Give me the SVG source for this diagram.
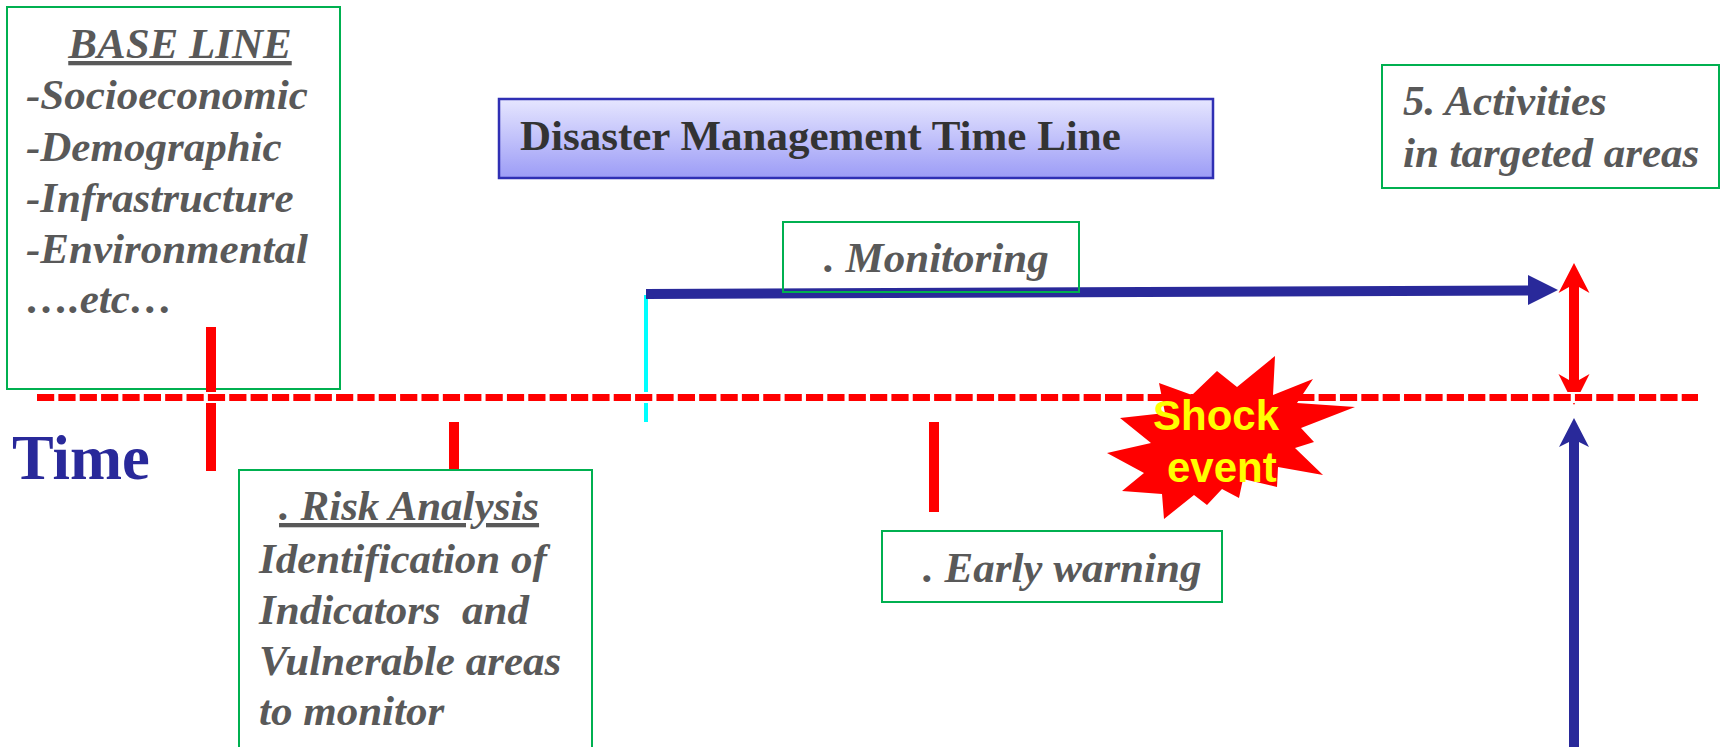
<svg xmlns="http://www.w3.org/2000/svg" width="1723" height="747" viewBox="0 0 1723 747">
<style>
.box{fill:none;stroke:#00b050;stroke-width:2}
.it{font-family:"Liberation Serif","Times New Roman",serif;font-weight:bold;font-style:italic;font-size:43px;fill:#595959}
.red{stroke:#ff0000;fill:none}
.navy{fill:#29299a}
.redf{fill:#ff0000}
</style>
<defs>
<linearGradient id="tg" x1="0" y1="0" x2="0" y2="1">
<stop offset="0" stop-color="#e6e6ff"/>
<stop offset="1" stop-color="#9c9cf6"/>
</linearGradient>
</defs>
<rect width="1723" height="747" fill="#ffffff"/>

<g id="baseline-node">
<rect class="box" x="7" y="7" width="333" height="382"/>
<text class="it" x="180" y="58" text-anchor="middle" text-decoration="underline">BASE LINE</text>
<text class="it" x="26" y="109">-Socioeconomic</text>
<text class="it" x="26" y="161">-Demographic</text>
<text class="it" x="26" y="212">-Infrastructure</text>
<text class="it" x="26" y="263">-Environmental</text>
<text class="it" x="26" y="313">….etc…</text>
</g>

<g id="title-node">
<rect x="499" y="99" width="714" height="79" fill="url(#tg)" stroke="#2f2fb4" stroke-width="2.5"/>
<text x="520" y="150" font-family="'Liberation Serif','Times New Roman',serif" font-weight="bold" font-size="43" fill="#333333">Disaster Management Time Line</text>
</g>

<g id="time-label">
<text x="12" y="479" font-family="'Liberation Serif','Times New Roman',serif" font-weight="bold" font-size="62.5" fill="#29299a">Time</text>
</g>

<g id="connectors">
<line x1="646" y1="295" x2="646" y2="422" stroke="#00ffff" stroke-width="4"/>
<line class="red" x1="211" y1="327" x2="211" y2="471" stroke-width="10"/>
<line class="red" x1="454" y1="422" x2="454" y2="470" stroke-width="10"/>
<line class="red" x1="934" y1="422" x2="934" y2="512" stroke-width="10"/>
<line x1="646" y1="294" x2="1530" y2="290.5" stroke="#29299a" stroke-width="10"/>
<polygon class="navy" points="1528,275 1558,290 1528,305"/>
<polygon class="redf" points="1574,263 1589.5,293 1579,287 1579,380 1589.5,374 1574,405 1558.5,374 1569,380 1569,287 1558.5,293"/>
<polygon class="navy" points="1574,418 1589,447 1579,442 1579,747 1569,747 1569,442 1559,447"/>
<line x1="37" y1="397.5" x2="1698" y2="397.5" stroke="#ffffff" stroke-width="11"/>
<line class="red" x1="37" y1="397.5" x2="1698" y2="397.5" stroke-width="7" stroke-dasharray="17.2 4.16"/>
</g>

<g id="monitoring-node">
<rect class="box" x="783" y="222" width="296" height="70"/>
<text class="it" x="824" y="272">. Monitoring</text>
</g>

<g id="risk-node">
<rect class="box" x="239" y="470" width="353" height="290"/>
<text class="it" x="279" y="520" text-decoration="underline">. Risk Analysis</text>
<text class="it" x="259" y="573">Identification of</text>
<text class="it" x="259" y="624" xml:space="preserve">Indicators  and</text>
<text class="it" x="259" y="675">Vulnerable areas</text>
<text class="it" x="259" y="725">to monitor</text>
</g>

<g id="early-warning-node">
<rect class="box" x="882" y="531" width="340" height="71"/>
<text class="it" x="923" y="582">. Early warning</text>
</g>

<g id="shock-node">
<polygon class="redf" points="1275,356 1273,395 1313,379 1297,403 1355,407 1301,428 1314,442 1295,448 1323,475 1278,467 1277,487 1243,479 1239,498 1222,489 1207,505 1194,495 1164,519 1162,494 1122,491 1144,473 1107,453 1151,443 1120,418 1165,413 1159,383 1192,395 1217,371 1237,387"/>
<text x="1153" y="430" font-family="'Liberation Sans',Arial,sans-serif" font-weight="bold" font-size="42" fill="#ffff00">Shock</text>
<text x="1167" y="482" font-family="'Liberation Sans',Arial,sans-serif" font-weight="bold" font-size="42" fill="#ffff00">event</text>
</g>

<g id="activities-node">
<rect class="box" x="1382" y="65" width="337" height="123"/>
<text class="it" x="1403" y="115" font-size="42">5. Activities</text>
<text class="it" x="1403" y="167" font-size="42">in targeted areas</text>
</g>
</svg>
